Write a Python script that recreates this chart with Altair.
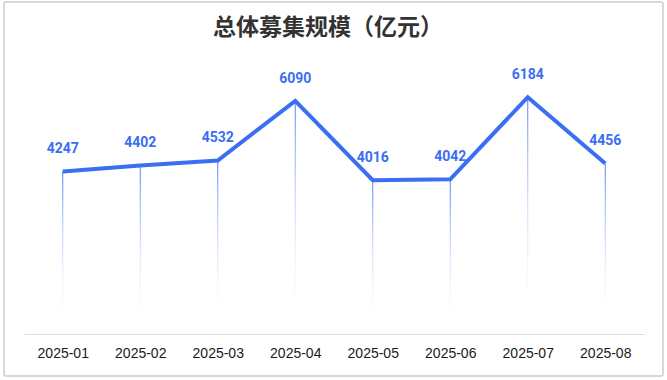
import altair as alt
import pandas as pd

months = ["2025-01", "2025-02", "2025-03", "2025-04", "2025-05", "2025-06", "2025-07", "2025-08"]
values = [4247, 4402, 4532, 6090, 4016, 4042, 6184, 4456]
title_text = ["总体募集规模（亿元）"]

df = pd.DataFrame({"month": months, "value": values})

BLUE = "#3b6ef3"

x_enc = alt.X("month:N", sort=months, title=None,
              scale=alt.Scale(type="point", padding=0.5),
              axis=alt.Axis(labelAngle=0, labelFont="Liberation Sans", labelFontSize=14,
                            labelColor="#1a1a1a", labelPadding=12, ticks=False,
                            domainColor="#dddddd", domainWidth=1, grid=False))
y_enc = alt.Y("value:Q", scale=alt.Scale(domain=[0, 7000]), axis=None)

base = alt.Chart(df)

drops = base.mark_bar(
    size=1,
    fill=alt.Gradient(
        gradient="linear", x1=0, x2=0, y1=0, y2=1,
        stops=[alt.GradientStop(offset=0, color="#4a7af5"),
               alt.GradientStop(offset=1, color="rgba(255,255,255,0)")],
    ),
).encode(x=x_enc, y=y_enc, y2=alt.datum(0))

line = base.mark_line(color=BLUE, strokeWidth=4, strokeJoin="miter").encode(x=x_enc, y=y_enc)

labels = base.mark_text(
    color=BLUE, font="Roboto", fontWeight="bold", fontSize=14,
    baseline="middle", dy=-22,
).encode(x=x_enc, y=y_enc, text="value:Q")

frame = alt.Chart(pd.DataFrame({"a": [0]})).mark_rect(
    fill="transparent", stroke="#cccccc", strokeWidth=1.5, cornerRadius=2,
).encode(x=alt.value(-20), x2=alt.value(639), y=alt.value(-64), y2=alt.value(310))

title = alt.Chart(pd.DataFrame({"t": title_text})).mark_text(
    font="Noto Sans CJK SC", fontSize=23, fontWeight="bold", color="#333333",
    align="center", baseline="middle",
).encode(x=alt.value(304), y=alt.value(-38), text="t:N")

chart = alt.layer(frame, drops, line, labels, title).properties(
    width=620, height=268,
    autosize=alt.AutoSizeParams(type="none"),
    padding={"left": 24, "top": 66, "right": 23, "bottom": 46},
    background="white",
).configure_view(stroke=None)

chart.save("out.html", embed_options={"renderer": "svg", "actions": False})
